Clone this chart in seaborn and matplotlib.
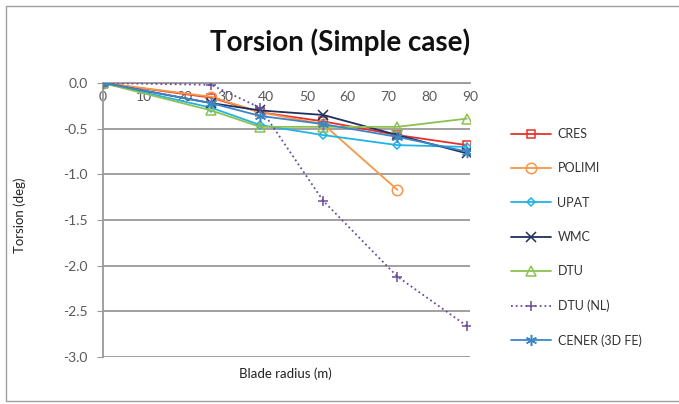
import numpy as np
import pandas as pd
import seaborn as sns
import matplotlib.pyplot as plt
from matplotlib.patches import Rectangle

# blade radius stations (m)
radius = [0, 26.5, 38.5, 54.0, 72.2, 89.2]

cres = [0, -0.16, -0.32, -0.42, -0.57, -0.68]
polimi = [0, -0.15, -0.32, -0.45, -1.17]
upat = [0, -0.27, -0.46, -0.57, -0.68, -0.70]
wmc = [0, -0.22, -0.30, -0.35, -0.57, -0.77]
dtu = [0, -0.30, -0.48, -0.48, -0.48, -0.39]
dtu_nl = [0, -0.02, -0.27, -1.29, -2.12, -2.66]
cener = [0, -0.22, -0.36, -0.45, -0.59, -0.75]

series = ['CRES', 'POLIMI', 'UPAT', 'WMC', 'DTU', 'DTU (NL)', 'CENER (3D FE)']
values = [cres, polimi, upat, wmc, dtu, dtu_nl, cener]

styles = {
    'CRES': dict(color='#E8302A', marker='s', ms=6, ls='-'),
    'POLIMI': dict(color='#F79646', marker='o', ms=7.5, ls='-'),
    'UPAT': dict(color='#1FB4E6', marker='D', ms=4.5, ls='-'),
    'WMC': dict(color='#1F2F5F', marker='x', ms=6.5, ls='-'),
    'DTU': dict(color='#8CC152', marker='^', ms=6.5, ls='-'),
    'DTU (NL)': dict(color='#6A4C9C', marker='+', ms=7, ls=':'),
    'CENER (3D FE)': dict(color='#3A86C8', marker=(6, 2, 0), ms=8, ls='-'),
}

rows = []
for name, vals in zip(series, values):
    for r, v in zip(radius, vals):
        rows.append({'series': name, 'radius': r, 'torsion': v})
df = pd.DataFrame(rows)

sns.set_style('white')
plt.rcParams['font.family'] = ['Lato', 'DejaVu Sans']

fig = plt.figure(figsize=(6.79, 4.04), dpi=100)
ax = fig.add_axes([103 / 679, 1 - 357 / 404, (470 - 103) / 679, (357 - 83) / 404])

for name in series:
    st = styles[name]
    sub = df[df['series'] == name]
    sns.lineplot(data=sub, x='radius', y='torsion', ax=ax, color=st['color'],
                 linestyle=st['ls'], linewidth=1.3, marker=st['marker'],
                 markersize=st['ms'], markerfacecolor='none',
                 markeredgecolor=st['color'], markeredgewidth=1.1,
                 label=name, zorder=3)

ax.set_xlim(0, 90)
ax.set_ylim(-3.0, 0.0)
ax.set_xticks(np.arange(0, 91, 10))
ax.set_yticks(np.arange(-3.0, 0.01, 0.5))
ax.set_yticklabels([f'{t:.1f}' for t in np.arange(-3.0, 0.01, 0.5)])

ax.yaxis.grid(True, color='#999999', linewidth=1.3)
ax.set_axisbelow(True)
ax.spines['top'].set_visible(False)
ax.spines['right'].set_visible(False)
ax.spines['bottom'].set_position(('data', 0))
for s in ['bottom', 'left']:
    ax.spines[s].set_color('#999999')
    ax.spines[s].set_linewidth(1.3)
ax.tick_params(axis='x', direction='in', length=5, color='#999999',
               labelsize=10, labelcolor='#595959', pad=6)
ax.tick_params(axis='y', direction='out', length=4, color='#999999',
               labelsize=10, labelcolor='#595959', left=True, pad=7)
ax.set_xlabel('')
ax.set_ylabel('')

fig.text(285 / 679, 1 - 374 / 404, 'Blade radius (m)', ha='center', va='center',
         fontsize=9.5, color='#222222')
fig.text(20 / 679, 1 - 215 / 404, 'Torsion (deg)', ha='center', va='center',
         rotation=90, fontsize=9.5, color='#222222')

fig.text(340 / 679, 1 - 42 / 404, 'Torsion (Simple case)', ha='center', va='center',
         fontsize=20, fontweight='bold', color='#111111')

ax.legend(loc='upper left', bbox_to_anchor=(500 / 679, 1 - 117 / 404),
          bbox_transform=fig.transFigure, frameon=False, fontsize=9,
          labelspacing=1.78, handlelength=3.2, handletextpad=0.5,
          labelcolor='#333333')

fig.patches.append(Rectangle((6 / 679, 3 / 404), 1.0, 1 - 9 / 404,
                             transform=fig.transFigure, fill=False,
                             edgecolor='#A0A0A0', linewidth=1.0))

fig.savefig('out.png', dpi=100)
